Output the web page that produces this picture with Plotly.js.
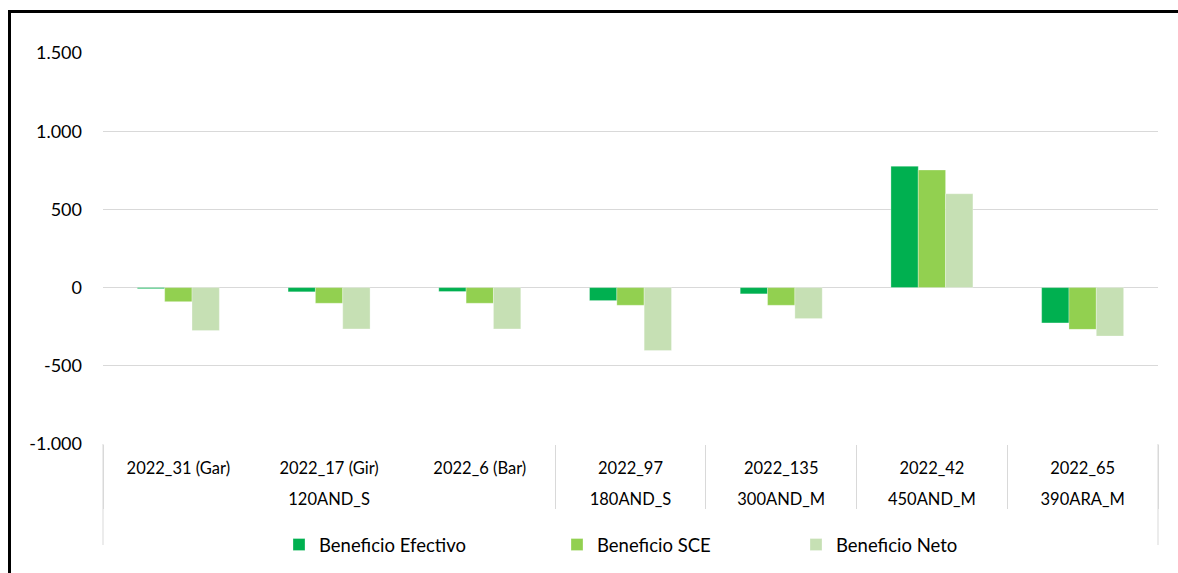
<!DOCTYPE html>
<html>
<head>
<meta charset="utf-8">
<script src="https://cdn.plot.ly/plotly-3.0.1.min.js"></script>
<style>
html,body{margin:0;padding:0;background:#fff;overflow:hidden;}
#chart{width:1178px;height:573px;position:absolute;left:0;top:0;}
#frame{position:absolute;left:8px;top:10px;width:1200px;height:600px;border-left:3px solid #000;border-top:3px solid #000;pointer-events:none;}
</style>
</head>
<body>
<div id="chart"></div>
<div id="frame"></div>
<script>
const groups = ['120AND_S','120AND_S','120AND_S','180AND_S','300AND_M','450AND_M','390ARA_M'];
const categories = ['2022_31 (Gar)','2022_17 (Gir)','2022_6 (Bar)','2022_97','2022_135','2022_42','2022_65'];
const beneficioEfectivo = [-7, -27, -25, -83, -40, 776, -226];
const beneficioSCE = [-90, -100, -100, -113, -113, 752, -267];
const beneficioNeto = [-275, -264, -264, -402, -198, 600, -310];
const yTickVals = [-1000, -500, 0, 500, 1000, 1500];
const yTickText = ['-1.000', '-500', '0', '500', '1.000', '1.500'];

const font = 'Lato, "Open Sans", sans-serif';
// an empty second line under each inner label spaces the two label rows like the reference
const x = [groups, categories.map(c => c + '<br> ')];
function tr(name, y, color, legend) {
  return {type:'bar', name:name, x:x, y:y, legend:legend,
    marker:{color:color, line:{color:'rgba(255,255,255,0.6)', width:0.5}},
    hoverinfo:'y'};
}
const data = [
  tr('Beneficio Efectivo', beneficioEfectivo, '#00B050', 'legend'),
  tr('Beneficio SCE', beneficioSCE, '#92D050', 'legend2'),
  tr('Beneficio Neto', beneficioNeto, '#C6E0B4', 'legend3')
];
const W = 1055, H = 391;
function lg(px) {
  return {orientation:'h', x:(px-103)/W, xanchor:'left', y:(444-545)/H, yanchor:'middle',
    font:{family:font, size:18.5, color:'#000'}, bgcolor:'rgba(0,0,0,0)', itemwidth:30};
}
const edge = (xp) => ({type:'line', xref:'paper', yref:'paper', x0:xp, x1:xp, y0:0, y1:(444-545)/H,
  line:{color:'#d9d9d9', width:1}, layer:'below'});
const layout = {
  width:1178, height:573,
  margin:{l:103, r:20, t:53, b:129, autoexpand:false},
  paper_bgcolor:'#fff', plot_bgcolor:'#fff',
  font:{family:font, color:'#000'},
  barmode:'group', bargap:0.456, bargroupgap:0,
  showlegend:true,
  legend:lg(279), legend2:lg(557), legend3:lg(796),
  shapes:[edge(0), edge(1)],
  xaxis:{type:'multicategory', showgrid:false, showline:false, zeroline:false,
    showdividers:true, dividercolor:'#d9d9d9', dividerwidth:1,
    ticks:'', ticklabelstandoff:12,
    tickfont:{family:font, size:16.5, color:'#000'}, fixedrange:true},
  yaxis:{range:[-1000,1500], tickvals:yTickVals, ticktext:yTickText,
    showgrid:true, gridcolor:'#d9d9d9', gridwidth:1,
    zeroline:true, zerolinecolor:'#d9d9d9', zerolinewidth:1,
    showline:false, ticks:'', ticklabelstandoff:20,
    tickfont:{family:font, size:18, color:'#000'}, fixedrange:true},
  separators:',.'
};
Plotly.newPlot('chart', data, layout, {displayModeBar:false, staticPlot:true});
</script>
</body>
</html>
